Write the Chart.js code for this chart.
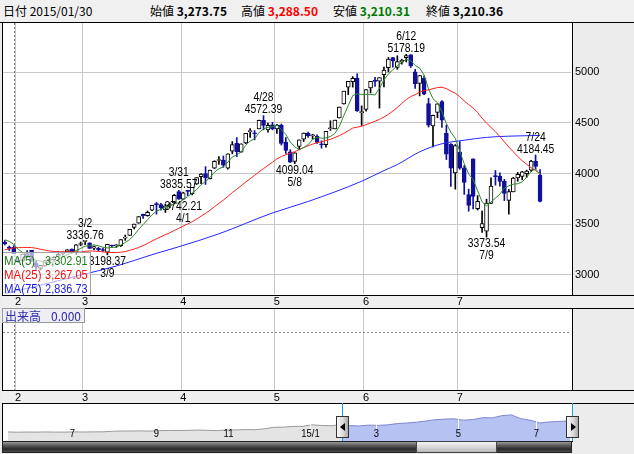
<!DOCTYPE html>
<html lang="ja">
<head>
<meta charset="UTF-8">
<title>Chart</title>
<script src="https://cdn.jsdelivr.net/npm/chart.js"></script>
<style>
  body { margin: 0; background: #fff; }
  #wrap { position: relative; width: 634px; height: 454px; background: #ececec; overflow: hidden;
          font-family: "Noto Sans CJK JP", sans-serif; }
  .abs { position: absolute; box-sizing: border-box; }
  canvas { position: absolute; }
  #head { left: 0; top: 0; width: 634px; height: 23px; background: #f0f0f0; border-bottom: 1px solid #000;
          font-size: 12px; line-height: 22px; white-space: nowrap; }
  #head span { position: absolute; top: 0; }
  #head b { font-weight: bold; }
  .plot { background: #fff; border: 1px solid #000; }
  .strip { background: #efefef; border-top: 1px solid #000; border-bottom: 1px solid #000; }
  #maBox { left: 3px; top: 252px; width: 88px; height: 43px; background: rgba(255,255,255,0.62);
           border-top: 1px solid #a0a0a0; border-right: 1px solid #a0a0a0;
           font-family: "Liberation Sans", sans-serif; font-size: 13px; }
  #maBox div { position: relative; height: 14px; line-height: 14px; }
  #maBox .n { display: inline-block; transform: scaleX(0.88); transform-origin: left center; margin-left: 1px; }
  #maBox .v { position: absolute; right: 2px; top: 0; transform: scaleX(0.84); transform-origin: right center; }
  #volBox { left: 2px; top: 308px; width: 83px; height: 15px; background: #eeeef4; border: 1px solid #999;
            color: #2b2bb0; font-size: 12px; line-height: 13px; }
  .handle { width: 13px; height: 22px; top: 416px; border: 1px solid #333;
            background: linear-gradient(to right, #fafafa, #d8d8d8 60%, #a8a8a8); }
  .tri { position: absolute; top: 6px; width: 0; height: 0; border-top: 4px solid transparent; border-bottom: 4px solid transparent; }
  .vline { width: 1px; top: 403px; height: 38px; background: #1f9ad6; }
  #scroll { left: 2px; top: 441px; width: 570px; height: 12px; border: 1px solid #222;
            background: linear-gradient(#9a9a9a, #5a5a5a 35%, #2a2a2a 70%, #4a4a4a); }
  #thumb { left: 416px; top: 441px; width: 81px; height: 12px; border: 1px solid #444;
           background: linear-gradient(#f4f4f4, #d8d8d8 50%, #b8b8b8); }
</style>
</head>
<body>
<div id="wrap">
  <div id="head" class="abs"></div>
  <div class="abs plot" style="left:2px;top:22px;width:571px;height:274px"></div>
  <div class="abs strip" style="left:2px;top:295px;width:632px;height:14px"></div>
  <div class="abs plot" style="left:2px;top:308px;width:571px;height:83px"></div>
  <div class="abs strip" style="left:2px;top:390px;width:632px;height:14px"></div>
  <div class="abs plot" style="left:2px;top:403px;width:571px;height:39px"></div>
  <canvas id="priceChart" width="634" height="286" style="left:0;top:23px"></canvas>
  <canvas id="volChart" width="634" height="94" style="left:0;top:309px"></canvas>
  <canvas id="navChart" width="568" height="37" style="left:4px;top:404px"></canvas>
  <div id="maBox" class="abs"></div>
  <div id="volBox" class="abs"><span style="position:absolute;left:2px">出来高</span><span id="volVal" style="position:absolute;right:3px">0.000</span></div>
  <div id="scroll" class="abs"></div>
  <div id="thumb" class="abs"></div>
</div>

<script>
// ---- data ----
const dates = ['1/28','1/29','1/30',
  '2/2','2/3','2/4','2/5','2/6','2/9','2/10','2/11','2/12','2/13','2/16','2/17','2/25','2/26','2/27',
  '3/2','3/3','3/4','3/5','3/6','3/9','3/10','3/11','3/12','3/13','3/16','3/17','3/18','3/19','3/20','3/23','3/24','3/25','3/26','3/27','3/30','3/31',
  '4/1','4/2','4/3','4/7','4/8','4/9','4/10','4/13','4/14','4/15','4/16','4/17','4/20','4/21','4/22','4/23','4/24','4/27','4/28','4/29','4/30',
  '5/4','5/5','5/6','5/7','5/8','5/11','5/12','5/13','5/14','5/15','5/18','5/19','5/20','5/21','5/22','5/25','5/26','5/27','5/28','5/29',
  '6/1','6/2','6/3','6/4','6/5','6/8','6/9','6/10','6/11','6/12','6/15','6/16','6/17','6/18','6/19','6/23','6/24','6/25','6/26','6/29','6/30',
  '7/1','7/2','7/3','7/6','7/7','7/8','7/9','7/10','7/13','7/14','7/15','7/16','7/17','7/20','7/21','7/22','7/23','7/24','7/27'];

const open = [3325,3275,3273.75,
  3148,3144,3212,3242,3120,3064,3090,3143,3150,3186,3208,3230,3256,3223,3301,
  3332,3317,3264,3264,3249,3224,3295,3288,3289,3364,3391,3470,3510,3598,3585,3640,3704,3695,3641,3686,3710,3822,
  3748,3828,3803,3899,3969,4000,3950,4055,4130,4135,4055,4222,4301,4212,4304,4414,4395,4441,4527,4432,4483,
  4441,4479,4311,4215,4120,4268,4341,4397,4374,4368,4285,4285,4443,4441,4549,4689,4854,4907,4943,4603,
  4633,4845,4924,4912,4976,5045,5145,5049,5101,5144,5174,5004,4890,4942,4691,4471,4605,4711,4399,4289,4006,
  4214,4058,3794,4146,3654,3467,3432,3707,3976,3977,3925,3736,3820,3958,3972,4000,4035,4124,3985];

const high = [3340,3286,3288.50,
  3174,3205,3241,3244,3140,3096,3142,3165,3181,3230,3229,3250,3257,3300,3325,
  3336.76,3317,3286,3272,3265,3303,3295,3300,3350,3394,3449,3503,3577,3600,3632,3688,3715,3706,3700,3712,3795,3835.57,
  3817,3835,3866,3961,4000,4069,4035,4128,4168,4175,4195,4317,4356,4294,4398,4444,4425,4529,4572.39,4499,4507,
  4488,4490,4356,4237,4208,4333,4402,4411,4389,4384,4324,4418,4522,4529,4658,4814,4911,4958,4986,4669,
  4829,4911,4951,4947,5051,5146,5147,5164,5130,5178.19,5176,5029,4969,4966,4744,4577,4691,4720,4480,4297,4287,
  4317,4080,3847,4146,3784,3631,3748,3959,4031,4007,3944,3844,3963,4012,4023,4035,4132,4184.45,4040];

const low = [3296,3241,3210.31,
  3122,3131,3172,3136,3052,3049,3087,3134,3144,3185,3196,3222,3215,3201,3288,
  3298,3260,3250,3240,3232,3198.37,3276,3272,3281,3341,3391,3454,3509,3557,3580,3634,3600,3640,3617,3663,3704,3747,
  3742.21,3783,3791,3892,3900,3893,3949,4050,4090,4062,4044,4195,4168,4212,4295,4358,4333,4441,4432,4410,4432,
  4398,4282,4199,4110,4099.04,4236,4317,4357,4338,4299,4252,4262,4427,4441,4549,4686,4779,4854,4614,4476,
  4616,4797,4861,4647,4856,5004,5050,5030,5081,5103,5048,4842,4767,4780,4460,4264,4552,4456,4139,3875,3847,
  4043,3795,3629,3653,3641,3421,3373.54,3707,3886,3876,3734,3600,3820,3925,3939,3962,4022,4044,3720];

const close = [3305.74,3262.30,3210.36,
  3128.30,3204.91,3174.13,3136.53,3075.91,3095.12,3141.59,3157.70,3173.42,3203.83,3222.44,3246.91,3228.84,3298.36,3310.30,
  3336.28,3263.05,3279.53,3248.48,3241.19,3302.41,3286.07,3290.90,3349.32,3372.91,3449.30,3502.85,3577.30,3582.27,3617.32,3687.73,3691.41,3660.73,3682.09,3691.10,3786.57,3747.90,
  3810.29,3825.78,3863.93,3961.38,3994.81,3957.53,4034.31,4121.71,4135.56,4084.16,4194.82,4287.30,4217.08,4293.62,4398.49,4414.51,4393.69,4527.40,4476.21,4476.62,4441.66,
  4480.46,4298.71,4229.27,4112.21,4205.92,4333.58,4401.22,4375.76,4378.31,4308.69,4283.49,4417.55,4446.29,4529.42,4657.60,4813.80,4910.90,4941.71,4620.27,4611.74,
  4828.74,4910.53,4909.98,4947.10,5023.10,5131.88,5113.53,5106.04,5121.59,5166.35,5062.99,4887.43,4967.90,4785.36,4478.36,4576.49,4690.15,4527.78,4192.87,4053.03,4277.22,
  4053.70,3912.77,3686.92,3775.91,3727.12,3507.19,3709.33,3877.80,3970.39,3924.49,3805.70,3823.18,3957.35,3992.11,4017.67,4026.04,4123.92,4070.91,3725.56];

// closes before the first visible day (12/23 .. 1/27), needed for the moving averages
const priorClose = [3032.61,2972.53,3072.54,3157.72,3168.02,3165.82,3234.68,
  3350.52,3351.45,3373.95,3293.46,3285.41,3229.32,3235.30,3222.44,3336.45,3376.50,3116.35,3173.05,3323.61,3343.34,3351.76,3383.18,3352.96];

// MA(75) (day index, value)
const ma75Day = [0, 2, 8, 17, 25, 33, 39, 48, 60, 68, 80, 85, 88, 93, 98, 103, 108, 113, 120];
const ma75Val = [2818, 2836.73, 2899, 2999, 3088, 3200, 3278, 3406, 3612, 3725, 3925, 4030, 4090, 4215, 4295, 4330, 4358, 4370, 4377];

// high / low markers
const markDay  = [18, 23, 39, 40, 58, 65, 90, 108, 119];
const markKind = ['high','low','high','low','high','low','high','low','high'];

const hoverDay = 2;               // 2015/01/30 under the cursor
const priceTicks = [3000, 3500, 4000, 4500, 5000];

// navigator: longer history (trading-day index, close)
const navPos = [0,5,10,15,20,25,30,35,40,45,50,55,60,65,70,75,80,85,90,95,100,105,110,115,120,125,130,135,140,145,
  150,155,160,165,170,175,176,180,185,190,195,200,205,210,215,220,225,230,235,240,245,250,255,260,265,270,275,280,285,290,295,296];
const navVal = [2050,2005,2035,2025,2055,2025,2025,2060,2040,2065,2075,2180,2220,2225,2240,2205,2290,2320,2315,2345,
  2390,2355,2300,2390,2420,2485,2450,2630,2900,2925,3060,3070,3350,3235,3175,3350,3306,3205,3140,3300,
  3250,3350,3580,3680,3825,4035,4290,4395,4440,4205,4310,4658,4612,5023,5166,4478,4193,3687,3878,3957,4071,3726];
const navTickPos = [34, 78, 116, 159, 194, 237, 278];
const navTickLabel = ['7', '9', '11', '15/1', '3', '5', '7'];
const navSelStart = 176;

// ---- helpers ----
const SANS = '"Liberation Sans", sans-serif';
const DOWN = '#10109c';
const fmt = v => v.toLocaleString('en-US', { minimumFractionDigits: 2, maximumFractionDigits: 2 });

function movingAverage(n) {
  const all = priorClose.concat(close);
  return close.map((c, k) => {
    const end = k + priorClose.length;
    if (end + 1 < n) return null;
    let s = 0;
    for (let j = end - n + 1; j <= end; j++) s += all[j];
    return s / n;
  });
}
const ma5 = movingAverage(5);
const ma25 = movingAverage(25);

// first trading day of each month
const monthStart = [];
dates.forEach((d, k) => {
  if (k > 0 && d.split('/')[0] !== dates[k - 1].split('/')[0]) monthStart.push(k);
});
const monthOf = k => dates[k].split('/')[0];

// x range: 4.46 px per day over the 568 px plot
const X_MIN = -0.41, X_MAX = 126.94;

Chart.defaults.animation = false;
Chart.defaults.font.family = SANS;
Chart.defaults.color = '#000';

const isUp = k => close[k] >= open[k];
// keep the plot rectangle exactly where the frame is
const noPad = axis => { axis.paddingTop = 0; axis.paddingBottom = 0; axis.paddingLeft = 0; axis.paddingRight = 0; };

// ---- header ----
const head = document.getElementById('head');
head.innerHTML =
  '<span style="left:3px">日付 2015/01/30</span>' +
  '<span style="left:150px">始値 <b>' + fmt(open[hoverDay]) + '</b></span>' +
  '<span style="left:241px">高値 <b style="color:#f00">' + fmt(high[hoverDay]) + '</b></span>' +
  '<span style="left:333px">安値 <b style="color:#007a00">' + fmt(low[hoverDay]) + '</b></span>' +
  '<span style="left:426px">終値 <b>' + fmt(close[hoverDay]) + '</b></span>';

// ---- MA legend ----
const ma75AtHover = ma75Val[ma75Day.indexOf(hoverDay)];
document.getElementById('maBox').innerHTML =
  '<div style="color:#1d7a1d;margin-top:1px"><span class="n">MA(5)</span><span class="v">' + fmt(ma5[hoverDay]) + '</span></div>' +
  '<div style="color:#f01010"><span class="n">MA(25)</span><span class="v">' + fmt(ma25[hoverDay]) + '</span></div>' +
  '<div style="color:#2020e0"><span class="n">MA(75)</span><span class="v">' + fmt(ma75AtHover) + '</span></div>';

// ---- plugins ----
const crossHair = {
  id: 'crossHair',
  beforeDatasetsDraw(chart) {
    const { ctx, chartArea, scales: { x } } = chart;
    const px = Math.round(x.getPixelForValue(hoverDay)) + 0.5;
    ctx.save();
    ctx.strokeStyle = '#777';
    ctx.setLineDash([2, 2]);
    ctx.beginPath();
    ctx.moveTo(px, chartArea.top);
    ctx.lineTo(px, chartArea.bottom);
    ctx.stroke();
    ctx.restore();
  }
};

// narrow text: squeeze the glyphs horizontally
function narrowText(ctx, text, x, y, sx) {
  ctx.save();
  ctx.translate(x, y);
  ctx.scale(sx, 1);
  ctx.fillText(text, 0, 0);
  ctx.restore();
}

const peakLabels = {
  id: 'peakLabels',
  afterDatasetsDraw(chart) {
    const { ctx, scales: { x, y } } = chart;
    ctx.save();
    ctx.font = '12px ' + SANS;
    ctx.fillStyle = '#000';
    ctx.textAlign = 'center';
    markDay.forEach((k, i) => {
      const px = x.getPixelForValue(k);
      if (markKind[i] === 'high') {
        const py = y.getPixelForValue(high[k]);
        ctx.textBaseline = 'bottom';
        narrowText(ctx, high[k].toFixed(2), px, py + 0.5, 0.86);
        narrowText(ctx, dates[k], px, py - 11.5, 0.86);
      } else {
        const py = y.getPixelForValue(low[k]);
        ctx.textBaseline = 'top';
        narrowText(ctx, low[k].toFixed(2), px, py + 1, 0.86);
        narrowText(ctx, dates[k], px, py + 13, 0.86);
      }
    });
    ctx.restore();
  }
};

function monthAxis(height) {
  return {
    type: 'linear', min: X_MIN, max: X_MAX, offset: false,
    grid: { color: '#c8c8c8', drawTicks: false, offset: false },
    border: { display: false },
    afterBuildTicks: axis => { axis.ticks = monthStart.map(k => ({ value: k - 0.5 })); },
    afterFit: axis => { axis.height = height; noPad(axis); },
    ticks: {
      padding: 1, labelOffset: 2.2, maxRotation: 0, autoSkip: false,
      font: { size: 11 },
      callback: v => monthOf(Math.round(v + 0.5))
    }
  };
}

// ---- price chart ----
new Chart(document.getElementById('priceChart'), {
  type: 'bar',
  data: {
    datasets: [
      { type: 'line', label: 'MA(5)', data: ma5.map((v, k) => ({ x: k, y: v })),
        borderColor: '#2a8a2a', borderWidth: 1, pointRadius: 0, order: 0 },
      { type: 'line', label: 'MA(25)', data: ma25.map((v, k) => ({ x: k, y: v })),
        borderColor: '#ff2020', borderWidth: 1, pointRadius: 0, order: 0 },
      { type: 'line', label: 'MA(75)', data: ma75Day.map((k, i) => ({ x: k, y: ma75Val[i] })),
        borderColor: '#2626ff', borderWidth: 1, pointRadius: 0, cubicInterpolationMode: 'monotone', order: 0 },
      { label: 'body', data: dates.map((d, k) => ({ x: k, y: [open[k], close[k]] })),
        backgroundColor: dates.map((d, k) => isUp(k) ? '#fff' : DOWN),
        borderColor: dates.map((d, k) => isUp(k) ? '#000' : DOWN),
        borderWidth: 1, borderSkipped: false, barThickness: 4, minBarLength: 1, grouped: false, order: 1 },
      { label: 'wick', data: dates.map((d, k) => ({ x: k, y: [low[k], high[k]] })),
        backgroundColor: dates.map((d, k) => isUp(k) ? '#000' : DOWN),
        borderWidth: 0, barThickness: 1, grouped: false, order: 2 }
    ]
  },
  options: {
    responsive: false,
    layout: { autoPadding: false, padding: { left: 3, right: 0, top: 0, bottom: 1 } },
    plugins: { legend: { display: false }, tooltip: { enabled: false } },
    scales: {
      x: monthAxis(14),
      y: {
        position: 'right', min: 2812, max: 5487,
        grid: { color: '#c8c8c8', drawTicks: false },
        border: { display: false },
        afterBuildTicks: axis => { axis.ticks = priceTicks.map(v => ({ value: v })); },
        afterFit: axis => { axis.width = 63; noPad(axis); },
        ticks: { padding: 4, font: { size: 11 }, callback: v => String(v) }
      }
    }
  },
  plugins: [crossHair, peakLabels]
});

// ---- volume chart (no volume in this feed) ----
new Chart(document.getElementById('volChart'), {
  type: 'bar',
  data: { datasets: [{ label: '出来高', data: [] }] },
  options: {
    responsive: false,
    layout: { autoPadding: false, padding: { left: 3, right: 0, top: 0, bottom: 0 } },
    plugins: { legend: { display: false }, tooltip: { enabled: false } },
    scales: {
      x: monthAxis(13),
      y: {
        position: 'right', min: 0, max: 1,
        grid: { color: '#888', drawTicks: false },
        border: { display: false, dash: [2, 2] },
        afterBuildTicks: axis => { axis.ticks = [{ value: 0.71 }]; },
        afterFit: axis => { axis.width = 63; noPad(axis); },
        ticks: { display: false }
      }
    }
  },
  plugins: [crossHair]
});

// ---- navigator ----
const navDecor = {
  id: 'navDecor',
  afterDatasetsDraw(chart) {
    const { ctx, chartArea, scales: { x } } = chart;
    ctx.save();
    ctx.font = '11px ' + SANS;
    ctx.textAlign = 'center';
    ctx.textBaseline = 'middle';
    navTickPos.forEach((p, i) => {
      const px = Math.round(x.getPixelForValue(p)) + 0.5;
      ctx.strokeStyle = 'rgba(255,255,255,0.9)';
      ctx.beginPath();
      ctx.moveTo(px, chartArea.top);
      ctx.lineTo(px, chartArea.bottom - 12);
      ctx.stroke();
      ctx.fillStyle = '#000';
      narrowText(ctx, navTickLabel[i], px, chartArea.bottom - 7, 0.86);
    });
    ctx.restore();
  }
};

const navPts = navPos.map((p, i) => ({ x: p, y: navVal[i] }));
const navChart = new Chart(document.getElementById('navChart'), {
  type: 'line',
  data: {
    datasets: [
      { data: navPts.filter(p => p.x <= navSelStart), borderColor: '#9a9a9a', backgroundColor: '#e4e4e4',
        fill: 'start', borderWidth: 1, pointRadius: 0 },
      { data: navPts.filter(p => p.x >= navSelStart), borderColor: '#7d86cf', backgroundColor: '#b6c2f2',
        fill: 'start', borderWidth: 1, pointRadius: 0 }
    ]
  },
  options: {
    responsive: false,
    layout: { autoPadding: false, padding: 0 },
    plugins: { legend: { display: false }, tooltip: { enabled: false } },
    scales: {
      x: { type: 'linear', display: false, min: -2, max: 296.95 },
      y: { display: false, min: 400, max: 7150 }
    }
  },
  plugins: [navDecor]
});

// handles placed from the navigator scale
const wrap = document.getElementById('wrap');
const nx = navChart.scales.x;
[[navSelStart, 'left'], [296.95, 'right']].forEach(([v, dir]) => {
  const px = 4 + nx.getPixelForValue(v);
  const line = document.createElement('div');
  line.className = 'abs vline';
  line.style.left = Math.round(px) + 'px';
  wrap.appendChild(line);
  const h = document.createElement('div');
  h.className = 'abs handle';
  h.style.left = Math.round(px - 6) + 'px';
  const t = document.createElement('div');
  t.className = 'tri';
  if (dir === 'left') { t.style.left = '3px'; t.style.borderRight = '5px solid #000'; }
  else { t.style.left = '4px'; t.style.borderLeft = '5px solid #000'; }
  h.appendChild(t);
  wrap.appendChild(h);
});
</script>
</body>
</html>
